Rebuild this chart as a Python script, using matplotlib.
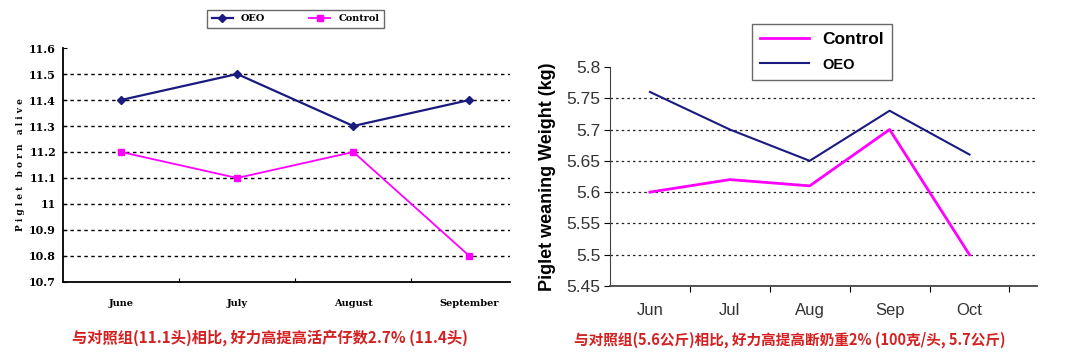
import matplotlib
matplotlib.use("Agg")
from matplotlib import pyplot as plt

# left chart: piglets born alive
months_l = ["June", "July", "August", "September"]
oeo_born = [11.4, 11.5, 11.3, 11.4]
ctrl_born = [11.2, 11.1, 11.2, 10.8]
yticks_l = [10.7, 10.8, 10.9, 11.0, 11.1, 11.2, 11.3, 11.4, 11.5, 11.6]
caption_l = "与对照组(11.1头)相比, 好力高提高活产仔数2.7% (11.4头)"

# right chart: weaning weight
months_r = ["Jun", "Jul", "Aug", "Sep", "Oct"]
oeo_wean = [5.76, 5.70, 5.65, 5.73, 5.66]
ctrl_wean = [5.60, 5.62, 5.61, 5.70, 5.50]
yticks_r = [5.45, 5.5, 5.55, 5.6, 5.65, 5.7, 5.75, 5.8]
caption_r = "与对照组(5.6公斤)相比, 好力高提高断奶重2% (100克/头, 5.7公斤)"

navy = "#1a1a80"
magenta = "#ff00ff"
red = "#d42020"
cjk = ["Noto Sans CJK SC", "DejaVu Sans"]

fig = plt.figure(figsize=(10.8, 3.54), dpi=100)

# ---- left ----
ax1 = fig.add_axes([0.0583, 0.2034, 0.414, 0.661])
x = list(range(len(months_l)))
ax1.plot(x, oeo_born, color=navy, marker="D", ms=4.5, lw=1.6, label="OEO")
ax1.plot(x, ctrl_born, color=magenta, marker="s", ms=5, lw=1.3, label="Control")
ax1.set_xlim(-0.5, 3.35)
ax1.set_ylim(10.7, 11.6)
ax1.set_yticks(yticks_l)
ax1.set_yticklabels(["%g" % v for v in yticks_l], fontfamily="DejaVu Serif",
                    fontweight="bold", fontsize=8)
ax1.set_xticks([0.5, 1.5, 2.5])
ax1.set_xticklabels([])
ax1.tick_params(axis="x", length=3, direction="in")
ax1.tick_params(axis="y", length=3, direction="in", pad=5)
for i, m in enumerate(months_l):
    ax1.text(i, -0.09, m, transform=ax1.get_xaxis_transform(), ha="center",
             va="center", fontfamily="DejaVu Serif", fontweight="bold",
             fontsize=7)
for v in yticks_l[1:-1]:
    ax1.axhline(v, color="black", ls=(0, (2.5, 2.5)), lw=1.0, zorder=0)
for s in ["top", "right"]:
    ax1.spines[s].set_visible(False)
ax1.spines["left"].set_linewidth(1.3)
ax1.spines["bottom"].set_linewidth(1.3)
ax1.set_ylabel("P i g l e t   b o r n   a l i v e", fontfamily="DejaVu Serif",
               fontweight="bold", fontsize=6.5, labelpad=3)
leg1 = ax1.legend(loc="center", bbox_to_anchor=(0.52, 1.124), ncol=2,
                  prop={"family": "DejaVu Serif", "weight": "bold", "size": 7},
                  frameon=True, fancybox=False, edgecolor="#444444",
                  handlelength=2.2, columnspacing=4.5, borderpad=0.5)
leg1.get_frame().set_linewidth(1.0)
fig.text(0.25, 0.047, caption_l, ha="center", va="center", color=red,
         fontfamily=cjk, fontweight="bold", fontsize=11)

# ---- right ----
ax2 = fig.add_axes([0.5648, 0.192, 0.395, 0.619])
x = list(range(len(months_r)))
ax2.plot(x, ctrl_wean, color=magenta, lw=2.0, label="Control")
ax2.plot(x, oeo_wean, color=navy, lw=1.5, label="OEO")
ax2.set_xlim(-0.5, 4.84)
ax2.set_ylim(5.45, 5.8)
ax2.set_yticks(yticks_r)
ax2.set_yticklabels(["%g" % v for v in yticks_r], fontfamily="Liberation Sans",
                    fontsize=12.5, color="#333333")
ax2.set_xticks([0.5, 1.5, 2.5, 3.5, 4.5])
ax2.set_xticklabels([])
ax2.tick_params(axis="x", length=4, direction="out")
ax2.tick_params(axis="y", length=4, direction="out", pad=3)
for i, m in enumerate(months_r):
    ax2.text(i, -0.11, m, transform=ax2.get_xaxis_transform(), ha="center",
             va="center", fontfamily="Liberation Sans", fontsize=12,
             color="#333333")
for v in yticks_r[1:-1]:
    ax2.axhline(v, color="#222222", ls=(0, (2, 2.5)), lw=0.9, zorder=0)
for s in ["top", "right"]:
    ax2.spines[s].set_visible(False)
ax2.spines["left"].set_color("#444444")
ax2.spines["bottom"].set_color("#444444")
ax2.spines["bottom"].set_linewidth(1.3)
ax2.set_ylabel("Piglet weaning Weight (kg)", fontfamily="Liberation Sans",
               fontweight="bold", fontsize=13, labelpad=7)
leg2 = ax2.legend(loc="center", bbox_to_anchor=(0.497, 1.068), ncol=1,
                  prop={"family": "Liberation Sans", "weight": "bold", "size": 12.5},
                  frameon=True, fancybox=False, edgecolor="#444444",
                  handlelength=2.8, borderpad=0.45, labelspacing=0.55)
leg2.get_frame().set_linewidth(1.0)
leg2.get_texts()[1].set_fontsize(10.5)
fig.text(0.731, 0.04, caption_r, ha="center", va="center", color=red,
         fontfamily=cjk, fontweight="bold", fontsize=10.5)

fig.savefig("out.png", dpi=100)
